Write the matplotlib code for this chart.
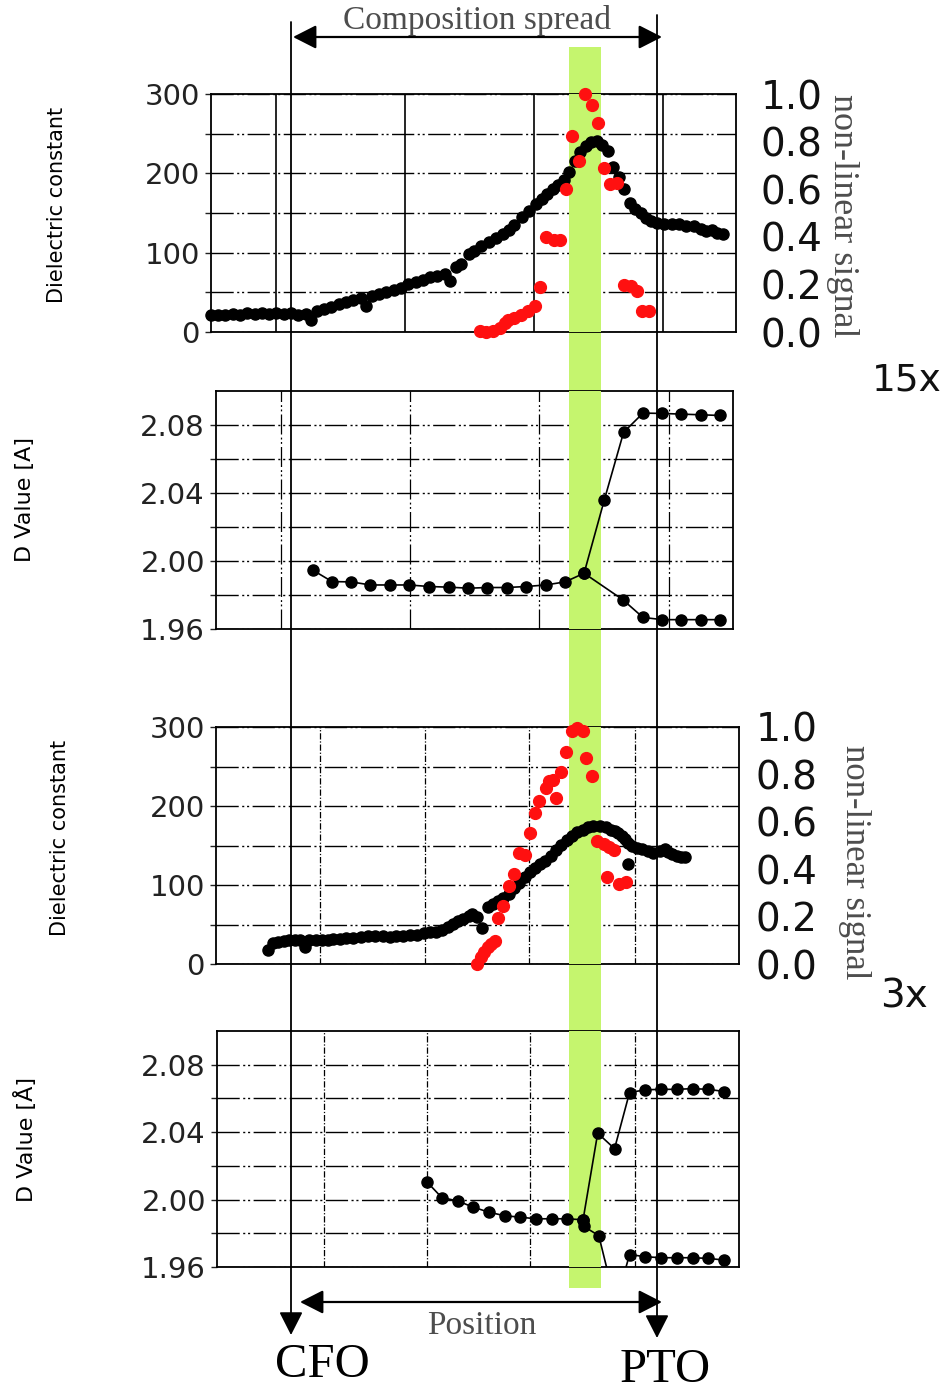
import matplotlib
matplotlib.use("Agg")
import matplotlib.pyplot as plt
from matplotlib.patches import Rectangle, FancyArrowPatch
from matplotlib.ticker import FixedLocator, NullFormatter

# ---------------- data (position in a.u.: CFO line = 0, PTO line = 10) ----------------
# Panel 1 (15x): dielectric constant (black) and non-linear signal (red)
p1_x = [-2.2, -2.0, -1.8, -1.6, -1.4, -1.2, -1.0, -0.8, -0.6, -0.4,
        -0.2, 0.0, 0.2, 0.4, 0.55, 0.7, 0.9, 1.1, 1.3, 1.5,
        1.7, 1.9, 2.05, 2.2, 2.4, 2.6, 2.8, 3.0, 3.2, 3.4,
        3.6, 3.8, 4.0, 4.2, 4.35, 4.5, 4.65, 4.85, 5.0, 5.2,
        5.4, 5.6, 5.8, 5.95, 6.1, 6.3, 6.5, 6.7, 6.85, 7.0,
        7.15, 7.3, 7.45, 7.6, 7.75, 7.9, 8.05, 8.2, 8.35, 8.5,
        8.65, 8.8, 8.95, 9.1, 9.25, 9.4, 9.55, 9.7, 9.85, 10.0,
        10.2, 10.4, 10.6, 10.8, 11.0, 11.2, 11.35, 11.5, 11.65, 11.8]
p1_eps = [21, 22, 21, 23, 22, 24, 23, 24, 23, 24,
          23, 24, 22, 23, 15, 27, 29, 32, 35, 38,
          40, 43, 33, 45, 48, 50, 53, 56, 60, 63,
          66, 69, 71, 73, 64, 82, 86, 98, 102, 108,
          113, 119, 124, 129, 135, 145, 153, 161, 168, 174,
          180, 185, 192, 202, 215, 227, 235, 240, 241, 236,
          228, 208, 195, 180, 162, 155, 150, 144, 140, 137,
          136, 136, 136, 134, 133, 130, 127, 128, 125, 123]
p1_red_x = [5.17, 5.32, 5.51, 5.70, 5.85, 5.94, 6.08, 6.28, 6.47, 6.66,
            6.79, 6.98, 7.19, 7.36, 7.51, 7.69, 7.86, 8.03, 8.22, 8.39,
            8.55, 8.71, 8.92, 9.11, 9.30, 9.45, 9.59, 9.78]
p1_red_nl = [0.003, 0.0, 0.003, 0.017, 0.038, 0.052, 0.059, 0.073, 0.087, 0.110,
             0.189, 0.399, 0.387, 0.385, 0.600, 0.824, 0.720, 1.0, 0.954, 0.877,
             0.688, 0.622, 0.625, 0.199, 0.192, 0.171, 0.087, 0.087]

# Panel 2 (15x): D value
p2_x_low = [0.59, 1.12, 1.65, 2.17, 2.70, 3.23, 3.77, 4.32, 4.85, 5.37, 5.90, 6.43, 6.96, 7.49, 8.01]
p2_d_low = [1.9947, 1.9879, 1.9877, 1.9859, 1.9859, 1.9859, 1.9850, 1.9846, 1.9840, 1.9844,
            1.9844, 1.9850, 1.9859, 1.9877, 1.9928]
p2_x_up = [8.56, 9.09, 9.62, 10.15, 10.67, 11.21, 11.73]
p2_d_up = [2.0357, 2.0757, 2.0870, 2.0868, 2.0864, 2.0860, 2.0856]
p2_x_down = [9.07, 9.62, 10.15, 10.67, 11.21, 11.73]
p2_d_down = [1.9772, 1.9668, 1.9655, 1.9655, 1.9655, 1.9655]

# Panel 3 (3x): dielectric constant (black) and non-linear signal (red)
p3_x = [-0.63, -0.5, -0.35, -0.2, -0.05, 0.1, 0.25, 0.38, 0.5, 0.67,
        0.85, 1.0, 1.15, 1.34, 1.5, 1.7, 1.9, 2.1, 2.3, 2.5,
        2.7, 2.88, 3.05, 3.25, 3.45, 3.64, 3.8, 3.95, 4.13, 4.28,
        4.42, 4.56, 4.7, 4.85, 4.94, 5.09, 5.23, 5.37, 5.52, 5.66,
        5.8, 5.95, 6.1, 6.24, 6.38, 6.53, 6.67, 6.81, 6.95, 7.1,
        7.25, 7.39, 7.54, 7.68, 7.82, 7.97, 8.11, 8.26, 8.45, 8.6,
        8.74, 8.85, 8.93, 9.03, 9.12, 9.22, 9.31, 9.45, 9.6, 9.75,
        9.89, 10.08, 10.22, 10.31, 10.41, 10.55, 10.65, 10.76, 9.20]
p3_eps = [18, 27, 28, 29, 30, 30, 31, 21, 30, 30,
          31, 31, 32, 32, 33, 33, 34, 35, 35, 35,
          34, 35, 36, 37, 37, 39, 40, 41, 43, 47,
          51, 54, 57, 61, 63, 59, 46, 72, 76, 80,
          84, 89, 96, 103, 110, 117, 122, 126, 131, 137,
          144, 151, 157, 162, 167, 170, 173, 175, 175, 173,
          170, 168, 166, 162, 158, 153, 149, 147, 145, 143,
          141, 143, 146, 142, 139, 137, 136, 136, 126]
p3_red_x = [5.09, 5.18, 5.28, 5.37, 5.47, 5.57, 5.66, 5.80, 5.95, 6.09,
            6.24, 6.38, 6.53, 6.67, 6.77, 6.96, 7.05, 7.15, 7.25, 7.38,
            7.50, 7.68, 7.82, 7.97, 8.06, 8.21, 8.35, 8.55, 8.69, 8.83,
            8.63, 8.96, 9.15]
p3_red_nl = [0.0, 0.028, 0.049, 0.070, 0.084, 0.098, 0.196, 0.245, 0.330, 0.381,
             0.470, 0.460, 0.554, 0.638, 0.687, 0.743, 0.771, 0.778, 0.701, 0.809,
             0.895, 0.982, 0.996, 0.985, 0.870, 0.792, 0.519, 0.505, 0.494, 0.480,
             0.365, 0.337, 0.344]

# Panel 4 (3x): D value
p4_x_low = [3.71, 4.12, 4.55, 4.98, 5.41, 5.84, 6.25, 6.69, 7.12, 7.55, 7.98]
p4_d_low = [2.0106, 2.0012, 1.9992, 1.9955, 1.9925, 1.9904, 1.9896, 1.9886, 1.9886, 1.9886, 1.9880]
p4_x_down = [8.0, 8.41, 8.87, 9.25, 9.68, 10.11, 10.54, 10.97, 11.40, 11.84]
p4_d_down = [1.9841, 1.9786, 1.938, 1.9674, 1.9661, 1.9655, 1.9655, 1.9655, 1.9651, 1.9641]
p4_x_up = [8.38, 8.84, 9.25, 9.68, 10.11, 10.54, 10.97, 11.40, 11.84]
p4_d_up = [2.0394, 2.0302, 2.0635, 2.0651, 2.0654, 2.0654, 2.0658, 2.0654, 2.0641]

eps_ticks = [0, 100, 200, 300]
eps_minor = [50, 150, 250]
d_ticks = [1.96, 2.00, 2.04, 2.08]
d_minor = [1.98, 2.02, 2.06]
nl_ticks = [0.0, 0.2, 0.4, 0.6, 0.8, 1.0]
band_range = (7.60, 8.47)   # highlighted composition (green band)

# ---------------- layout ----------------
W, H = 952, 1397
fig = plt.figure(figsize=(W / 100, H / 100), dpi=100)
plt.rcParams['font.family'] = ['DejaVu Sans']

GREEN = '#c5f56e'
GRID_LS = (0, (16, 2.5, 1.5, 2, 1.5, 2.5))
VGRID_LS = (0, (5, 1.5, 1, 1.5))
SERIF_GRAY = '#4d4d4d'


def box(l, t, r, b):
    return [l / W, 1 - b / H, (r - l) / W, (b - t) / H]


def fx(px):
    return px / W


def fy(py):
    return 1 - py / H


def setup(ax, xlim, vgrid, vstyle, ylim, major, minor, fmt):
    ax.set_facecolor('none')
    ax.set_xlim(*xlim)
    ax.set_ylim(*ylim)
    ax.set_xticks(vgrid)
    ax.tick_params(axis='x', length=0, labelbottom=False)
    ax.yaxis.set_major_locator(FixedLocator(major))
    ax.yaxis.set_minor_locator(FixedLocator(minor))
    ax.set_yticklabels([fmt.format(v) for v in major])
    ax.tick_params(axis='y', which='both', direction='out', length=4, width=1,
                   labelsize=21, pad=4, colors='#222222')
    ax.grid(axis='y', which='both', color='black', lw=1.0, linestyle=GRID_LS, zorder=0.5)
    ax.grid(axis='x', which='major', color='black', lw=1.2 if vstyle == '-' else 0.9,
            linestyle=vstyle, zorder=0.5)
    ax.set_axisbelow(True)
    for s in ax.spines.values():
        s.set_linewidth(1.3)
        s.set_zorder(1)
    ax.axvspan(*band_range, color=GREEN, lw=0, zorder=1.5)


def right_axis(ax, inward):
    tw = ax.twinx()
    tw.set_ylim(0, 1)
    tw.set_yticks(nl_ticks)
    tw.set_yticklabels(['{:.1f}'.format(v) for v in nl_ticks])
    if inward:
        tw.yaxis.set_minor_locator(FixedLocator([0.2, 0.4, 0.6, 0.8]))
        tw.tick_params(axis='y', which='major', length=0, pad=12, labelsize=28, colors='#111111')
        tw.tick_params(axis='y', which='minor', direction='in', length=24, width=1.1, color='black')
    else:
        tw.yaxis.set_minor_locator(FixedLocator([0.8]))
        tw.tick_params(axis='y', which='major', length=0, pad=18, labelsize=28, colors='#111111')
        tw.tick_params(axis='y', which='minor', direction='out', length=18, width=1.1, color='black')
    tw.yaxis.set_minor_formatter(NullFormatter())
    for s in tw.spines.values():
        s.set_visible(False)
    return tw


# Panel 1
ax1 = fig.add_axes(box(211, 94, 736, 332))
setup(ax1, (-2.19, 12.16), [-0.41, 3.11, 6.63, 10.16], '-', (0, 300), eps_ticks, eps_minor, '{:d}')
ax1.plot(p1_x, p1_eps, 'o', color='black', ms=8, mec='black', zorder=3, clip_on=False)
tw1 = right_axis(ax1, inward=False)
tw1.plot(p1_red_x, p1_red_nl, 'o', color='#ff1010', ms=8.5, mec='#ff1010', zorder=3, clip_on=False)

# Panel 2
ax2 = fig.add_axes(box(216, 391, 733, 629))
setup(ax2, (-2.05, 12.08), [-0.26, 3.26, 6.78, 10.32], GRID_LS, (1.96, 2.10), d_ticks, d_minor, '{:.2f}')
ax2.plot(p2_x_low + p2_x_up, p2_d_low + p2_d_up, '-o', color='black', lw=1.2, ms=8, zorder=3)
ax2.plot(p2_x_low[-1:] + p2_x_down, p2_d_low[-1:] + p2_d_down, '-o', color='black', lw=1.2, ms=8, zorder=3)

# Panel 3
ax3 = fig.add_axes(box(216, 727, 739, 964))
setup(ax3, (-2.05, 12.24), [0.79, 3.66, 6.51, 9.39], VGRID_LS, (0, 300), eps_ticks, eps_minor, '{:d}')
ax3.plot(p3_x, p3_eps, 'o', color='black', ms=8, zorder=3, clip_on=False)
tw3 = right_axis(ax3, inward=True)
tw3.plot(p3_red_x, p3_red_nl, 'o', color='#ff1010', ms=8.5, mec='#ff1010', zorder=3, clip_on=False)

# Panel 4
ax4 = fig.add_axes(box(217, 1031, 739, 1267))
setup(ax4, (-2.02, 12.24), [0.89, 3.71, 6.54, 9.41], VGRID_LS, (1.96, 2.10), d_ticks, d_minor, '{:.2f}')
ax4.plot(p4_x_low + p4_x_down, p4_d_low + p4_d_down, '-o', color='black', lw=1.2, ms=8, zorder=3)
ax4.plot(p4_x_low[-1:] + p4_x_up, p4_d_low[-1:] + p4_d_up, '-o', color='black', lw=1.2, ms=8, zorder=3)

# green band between panels (behind transparent axes)
fig.add_artist(Rectangle((fx(569), fy(1288)), fx(601) - fx(569), fy(47) - fy(1288),
                         transform=fig.transFigure, color=GREEN, lw=0, zorder=-1))

# y-axis labels
fig.text(fx(57), fy(205), 'Dielectric constant', rotation=90, ha='center', va='center', fontsize=15)
fig.text(fx(25), fy(500), 'D Value [A]', rotation=90, ha='center', va='center', fontsize=16)
fig.text(fx(60), fy(838), 'Dielectric constant', rotation=90, ha='center', va='center', fontsize=15)
fig.text(fx(25), fy(1140), 'D Value [Å]', rotation=90, ha='center', va='center', fontsize=16)

# right labels
fig.text(fx(843), fy(216), 'non-linear signal', rotation=-90, ha='center', va='center',
         fontsize=26, family='Liberation Serif', color=SERIF_GRAY)
fig.text(fx(855), fy(862), 'non-linear signal', rotation=-90, ha='center', va='center',
         fontsize=25, family='Liberation Serif', color=SERIF_GRAY)
fig.text(fx(907), fy(380), '15x', ha='center', va='center', fontsize=27, color='#111111')
fig.text(fx(904), fy(997), '3x', ha='center', va='center', fontsize=28, color='#111111')

# long composition lines with arrow heads
ARROW_ONE = '-|>,head_length=0.55,head_width=0.28'
ARROW_TWO = '<|-|>,head_length=0.55,head_width=0.28'
for x0, ytop, ybot in [(291, 22, 1335), (657, 15, 1338)]:
    fig.add_artist(FancyArrowPatch((fx(x0), fy(ytop)), (fx(x0), fy(ybot)), transform=fig.transFigure,
                                   arrowstyle=ARROW_ONE, mutation_scale=26,
                                   color='black', lw=1.3, zorder=10, shrinkA=0, shrinkB=0))
# horizontal double arrows
fig.add_artist(FancyArrowPatch((fx(293), fy(37)), (fx(662), fy(37)), transform=fig.transFigure,
                               arrowstyle=ARROW_TWO, mutation_scale=26,
                               color='black', lw=1.6, zorder=10, shrinkA=0, shrinkB=0))
fig.add_artist(FancyArrowPatch((fx(300), fy(1302)), (fx(662), fy(1302)), transform=fig.transFigure,
                               arrowstyle=ARROW_TWO, mutation_scale=26,
                               color='black', lw=1.6, zorder=10, shrinkA=0, shrinkB=0))

fig.text(fx(477), fy(20), 'Composition spread', ha='center', va='center', fontsize=24,
         family='Liberation Serif', color=SERIF_GRAY)
fig.text(fx(482), fy(1326), 'Position', ha='center', va='center', fontsize=24,
         family='Liberation Serif', color=SERIF_GRAY)
fig.text(fx(322), fy(1365), 'CFO', ha='center', va='center', fontsize=35,
         family='Liberation Serif', color='black')
fig.text(fx(665), fy(1370), 'PTO', ha='center', va='center', fontsize=35,
         family='Liberation Serif', color='black')

fig.savefig('out.png', dpi=100)
